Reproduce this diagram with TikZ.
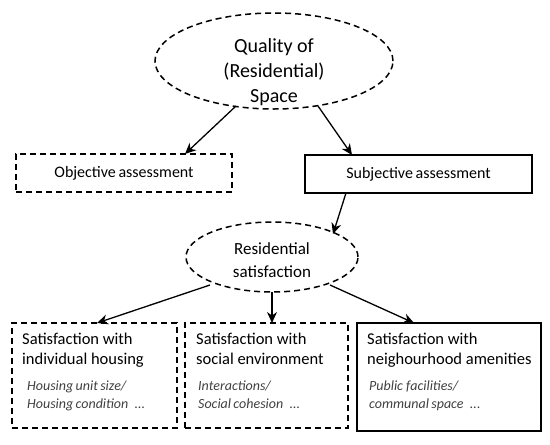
\documentclass[tikz,border=0pt]{standalone}
\usepackage{fontspec}
\setmainfont{Carlito}
\usetikzlibrary{shapes.geometric,arrows.meta}
\begin{document}
\begin{tikzpicture}[x=1pt,y=-1pt,
  dsh/.style={draw,line width=1.5pt,dash pattern=on 6pt off 4pt},
  solidbox/.style={draw,line width=2pt},
  arr/.style={-{Stealth[length=11pt,width=10pt]},line width=1.3pt},
  main/.style={font=\fontsize{16.5}{19.5}\selectfont},
  sub/.style={font=\fontsize{14}{18}\selectfont\itshape,text=black!75}
]
\useasboundingbox (0,0) rectangle (550,445);
% top ellipse
\node[dsh,ellipse,minimum width=238pt,minimum height=96pt,inner sep=0pt] (q) at (274,61) {};
\node[font=\fontsize{20}{25}\selectfont,align=center] (qt) at (274,72) {Quality of\\(Residential)\\Space};
% second level
\node[dsh,minimum width=216pt,minimum height=38pt,inner sep=0pt] (obj) at (124,173) {};
\node[font=\fontsize{16}{18}\selectfont] (objt) at (124,173) {Objective\,assessment};
\node[solidbox,minimum width=227pt,minimum height=38pt,inner sep=0pt] (subj) at (418.5,174) {};
\node[font=\fontsize{16}{18}\selectfont] (subjt) at (418.5,174) {Subjective\,assessment};
% second ellipse
\node[dsh,ellipse,minimum width=172pt,minimum height=70pt,inner sep=0pt] (rs) at (272,257) {};
\node[font=\fontsize{17}{23}\selectfont,align=center] (rst) at (272,260) {Residential\\satisfaction};
% bottom boxes
\node[dsh,minimum width=165pt,minimum height=105pt,inner sep=0pt] (b1) at (94.5,375.5) {};
\node[dsh,minimum width=163pt,minimum height=105pt,inner sep=0pt] (b2) at (266.5,375.5) {};
\node[solidbox,minimum width=184pt,minimum height=108pt,inner sep=0pt] (b3) at (449,377) {};
% bottom texts
\node[main,anchor=north west,align=left,inner sep=0pt] (b1t) at (22,333) {Satisfaction with\\individual housing};
\node[sub,anchor=north west,align=left,inner sep=0pt] (b1s) at (27,381) {Housing\,unit\,size/\\Housing\,condition\ \ ...};
\node[main,anchor=north west,align=left,inner sep=0pt] (b2t) at (196,333) {Satisfaction with\\social environment};
\node[sub,anchor=north west,align=left,inner sep=0pt] (b2s) at (198,381) {Interactions/\\Social\,cohesion\ \ ...};
\node[main,anchor=north west,align=left,inner sep=0pt] (b3t) at (367,333) {Satisfaction with\\neighourhood amenities};
\node[sub,anchor=north west,align=left,inner sep=0pt] (b3s) at (369,381) {Public facilities/\\communal\,space\ \ ...};
% arrow end points
\coordinate (q1) at (236,106);
\coordinate (q2) at (318,106);
\coordinate (o1) at (185,154);
\coordinate (s1) at (352,155);
\coordinate (s2) at (346,193);
\coordinate (r1) at (333,234);
\coordinate (r2) at (210,285);
\coordinate (r3) at (272,292);
\coordinate (r4) at (330,285);
\coordinate (t1) at (97,323);
\coordinate (t2) at (272,323);
\coordinate (t3) at (414,323);
% arrows
\draw[arr] (q1) -- (o1);
\draw[arr] (q2) -- (s1);
\draw[arr] (s2) -- (r1);
\draw[arr] (r2) -- (t1);
\draw[arr] (r3) -- (t2);
\draw[arr] (r4) -- (t3);
\end{tikzpicture}
\end{document}
